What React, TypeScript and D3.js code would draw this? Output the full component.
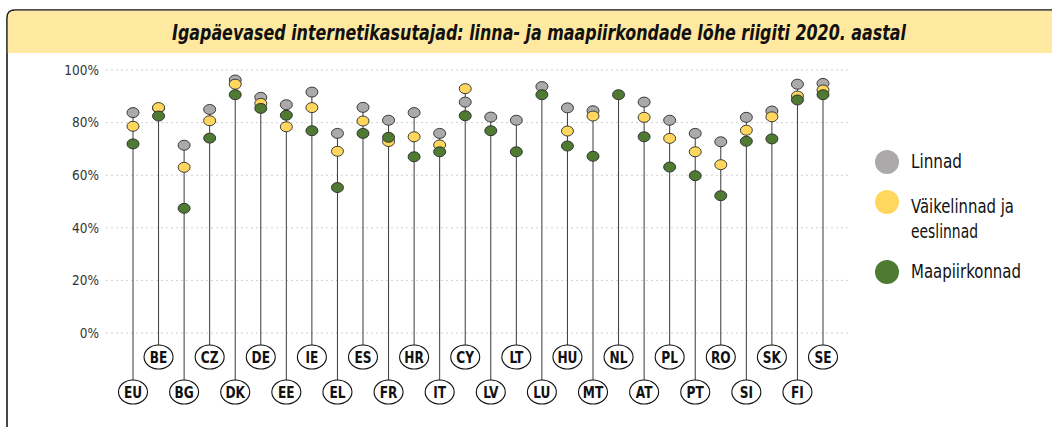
import React from "react";
import * as d3 from "d3";

const countries = ["EU","BE","BG","CZ","DK","DE","EE","IE","EL","ES","FR","HR","IT","CY","LV","LT","LU","HU","MT","NL","AT","PL","PT","RO","SI","SK","FI","SE"];
const cities: (number | null)[] = [83.8,85.5,71.4,85.0,96.2,89.6,86.8,91.6,75.9,85.8,80.9,83.8,75.9,87.8,82.1,80.9,93.7,85.6,84.5,null,87.8,80.9,75.9,72.7,82.0,84.4,94.6,94.9];
const towns: (number | null)[] = [78.6,85.7,63.0,80.7,94.6,87.3,78.4,85.7,69.1,80.6,72.8,74.6,71.5,92.9,null,null,null,76.8,82.5,null,82.0,74.0,68.9,64.0,77.1,82.2,90.1,92.4];
const rural: (number | null)[] = [71.9,82.5,47.4,74.1,90.6,85.4,82.8,76.9,55.3,75.9,74.4,67.0,68.9,82.6,76.9,68.9,90.6,71.1,67.2,90.6,74.6,63.1,59.8,52.2,72.9,73.8,88.6,90.6];
const yTicks = [0, 20, 40, 60, 80, 100];

const seriesColors = ["#ABA9A9", "#FFD75E", "#4E7A32"];
const legendLines = ["Linnad", "Väikelinnad ja", "eeslinnad", "Maapiirkonnad"];

const title = "Igapäevased internetikasutajad: linna- ja maapiirkondade lõhe riigiti 2020. aastal";

const FONT = "'Liberation Sans Narrow', 'DejaVu Sans Condensed', 'Roboto Condensed', sans-serif";

export default function App() {
  const W = 1052, H = 427;
  const x = d3.scalePoint<string>().domain(countries).range([133, 823]);
  const y = d3.scaleLinear().domain([0, 100]).range([333, 70]);
  const series = [cities, towns, rural];
  const upperY = 357, lowerY = 392, erx = 14.5, ery = 12;
  const legendTextY = [168, 213, 238, 278];
  const legendTextW = [51, 103, 67, 110];

  return (
    <svg width={W} height={H} style={{ position: "absolute", left: 0, top: 0, background: "#fff" }} fontFamily={FONT}>
      {/* frame */}
      <path d="M7,1000 L7,18 Q7,10 15,10 L1060,10" fill="none" stroke="#1a1a1a" strokeWidth={1.6} />
      <path d="M7.8,53 L7.8,18 Q7.8,10.8 15,10.8 L1060,10.8 L1060,53 Z" fill="#FFE89F" />
      <text x={539} y={40} textAnchor="middle" fontSize={21} fontWeight="bold" fontStyle="italic" fill="#111"
        textLength={734} lengthAdjust="spacingAndGlyphs">{title}</text>

      {/* grid */}
      {yTicks.map((t) => (
        <g key={t}>
          <line x1={106} x2={848} y1={y(t)} y2={y(t)} stroke="#cfcfcf" strokeDasharray="2,3" strokeWidth={1} />
          <text x={99} y={y(t)} dy="0.35em" textAnchor="end" fontSize={13.5} fill="#333">{t}%</text>
        </g>
      ))}

      {/* stems + labels */}
      {countries.map((c, i) => {
        const vals = series.map((s) => s[i]).filter((v): v is number => v != null);
        const top = d3.max(vals) as number;
        const ly = i % 2 === 0 ? lowerY : upperY;
        const cx = x(c) as number;
        return (
          <g key={c}>
            <line x1={cx} x2={cx} y1={y(top)} y2={ly - ery} stroke="#3a3a3a" strokeWidth={1} />
            <ellipse cx={cx} cy={ly} rx={erx} ry={ery} fill="#fff" stroke="#111" strokeWidth={1.1} />
            <text transform={`translate(${cx},${ly}) scale(0.82,1)`} dy="0.36em" textAnchor="middle"
              fontSize={16.5} fontWeight="bold" fill="#111">{c}</text>
          </g>
        );
      })}

      {/* dots */}
      {series.map((s, si) => (
        <g key={si}>
          {countries.map((c, i) => s[i] == null ? null : (
            <ellipse key={c} cx={x(c) as number} cy={y(s[i] as number)} rx={6} ry={5}
              fill={seriesColors[si]} stroke="#2a2a2a" strokeWidth={0.9} />
          ))}
        </g>
      ))}

      {/* legend */}
      {[162, 202, 272].map((ly, i) => (
        <circle key={i} cx={887} cy={ly} r={12} fill={seriesColors[i]} />
      ))}
      {legendLines.map((t, i) => (
        <text key={t} x={911} y={legendTextY[i]} fontSize={19} fill="#111"
          textLength={legendTextW[i]} lengthAdjust="spacingAndGlyphs">{t}</text>
      ))}
    </svg>
  );
}
